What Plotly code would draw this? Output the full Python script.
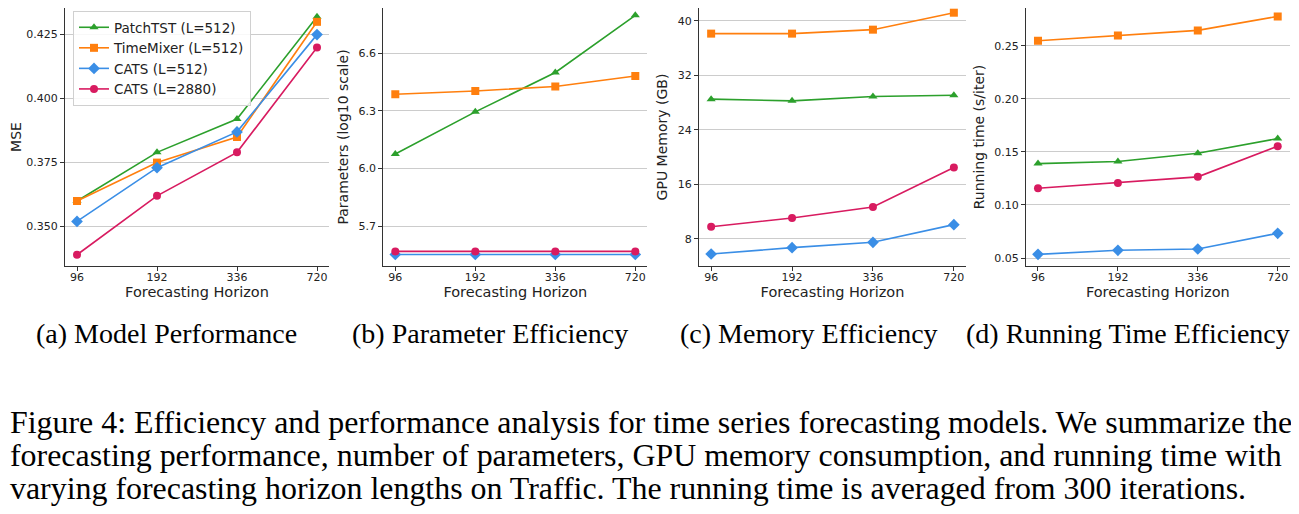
import plotly.graph_objects as go

horizons = ["96", "192", "336", "720"]
models = ["PatchTST (L=512)", "TimeMixer (L=512)", "CATS (L=512)", "CATS (L=2880)"]

mse = {
    "PatchTST (L=512)": [0.360, 0.379, 0.392, 0.432],
    "TimeMixer (L=512)": [0.360, 0.375, 0.385, 0.430],
    "CATS (L=512)": [0.352, 0.373, 0.387, 0.425],
    "CATS (L=2880)": [0.339, 0.362, 0.379, 0.420],
}
params_log10 = {
    "PatchTST (L=512)": [6.075, 6.295, 6.500, 6.798],
    "TimeMixer (L=512)": [6.387, 6.404, 6.427, 6.482],
    "CATS (L=512)": [5.552, 5.552, 5.552, 5.552],
    "CATS (L=2880)": [5.568, 5.568, 5.568, 5.568],
}
gpu_mem = {
    "PatchTST (L=512)": [28.48, 28.23, 28.87, 29.06],
    "TimeMixer (L=512)": [38.10, 38.10, 38.68, 41.17],
    "CATS (L=512)": [5.75, 6.68, 7.47, 10.06],
    "CATS (L=2880)": [9.76, 11.04, 12.65, 18.44],
}
run_time = {
    "PatchTST (L=512)": [0.139, 0.141, 0.1488, 0.1626],
    "TimeMixer (L=512)": [0.2547, 0.2598, 0.2645, 0.2777],
    "CATS (L=512)": [0.0535, 0.0573, 0.0585, 0.0733],
    "CATS (L=2880)": [0.1158, 0.1208, 0.1265, 0.1554],
}

panel_titles = ["(a) Model Performance", "(b) Parameter Efficiency",
                "(c) Memory Efficiency", "(d) Running Time Efficiency"]
y_titles = ["MSE", "Parameters (log10 scale)", "GPU Memory (GB)", "Running time (s/iter)"]
x_title = "Forecasting Horizon"
caption_lines = [
    "Figure 4: Efficiency and performance analysis for time series forecasting models. We summarize the",
    "forecasting performance, number of parameters, GPU memory consumption, and running time with",
    "varying forecasting horizon lengths on Traffic. The running time is averaged from 300 iterations.",
]

colors = {
    "PatchTST (L=512)": "#2ca02c",
    "TimeMixer (L=512)": "#ff7f0e",
    "CATS (L=512)": "#3a8ee6",
    "CATS (L=2880)": "#d81b60",
}
symbols = {
    "PatchTST (L=512)": "triangle-up",
    "TimeMixer (L=512)": "square",
    "CATS (L=512)": "diamond",
    "CATS (L=2880)": "circle",
}

# The page body has an 8px margin, so the figure starts at (8, 8) on screen.
OFF = 8
W, H = 1299 - OFF, 514 - 2 * OFF


def px_x(x):
    return (x - OFF) / W


def px_y(y):
    return 1 - (y - OFF) / H


panel_px = [(65, 329), (383.3, 647.3), (699, 966), (1026, 1289.7)]
y_dom = [px_y(266), 1.0]
y_ranges = [[0.3346, 0.4354], [5.492, 6.836], [3.99, 41.86], [0.0425, 0.2856]]
y_ticks = [[0.350, 0.375, 0.400, 0.425], [5.7, 6.0, 6.3, 6.6],
           [8, 16, 24, 32, 40], [0.05, 0.10, 0.15, 0.20, 0.25]]
y_fmt = [".3f", ".1f", "d", ".2f"]
datasets = [mse, params_log10, gpu_mem, run_time]

fig = go.Figure()
chart_font = "DejaVu Sans"
for i, data in enumerate(datasets):
    sfx = "" if i == 0 else str(i + 1)
    for m in models:
        fig.add_trace(go.Scatter(
            x=horizons, y=data[m], name=m, mode="lines+markers",
            line=dict(color=colors[m], width=1.6),
            marker=dict(symbol=symbols[m], size=8 if symbols[m] != "diamond" else 9,
                        color=colors[m]),
            xaxis="x" + sfx, yaxis="y" + sfx, showlegend=(i == 0),
        ))
    x0, x1 = panel_px[i]
    axis_common = dict(showline=True, linecolor="#333333", linewidth=1.3,
                       ticks="outside", ticklen=4, tickwidth=1, tickcolor="#333333",
                       tickfont=dict(size=11, color="#222222", family=chart_font),
                       zeroline=False, automargin=False)
    fig.update_layout(**{
        "xaxis" + sfx: dict(domain=[px_x(x0), px_x(x1)], type="category",
                            range=[-0.15, 3.15], showgrid=False, anchor="y" + sfx,
                            ticklabelstandoff=-3,
                            title=dict(text=x_title, standoff=3,
                                       font=dict(size=14.5, color="#222222", family=chart_font)),
                            **axis_common),
        "yaxis" + sfx: dict(domain=y_dom, range=y_ranges[i], tickvals=y_ticks[i],
                            tickformat=y_fmt[i], showgrid=True, gridcolor="#cccccc",
                            gridwidth=1.3, anchor="x" + sfx,
                            title=dict(text=y_titles[i], standoff=6,
                                       font=dict(size=14, color="#222222", family=chart_font)),
                            **axis_common),
    })

sub_centers = [166.7, 490, 808.6, 1128]
annotations = []
for t, cx in zip(panel_titles, sub_centers):
    annotations.append(dict(text=t, x=px_x(cx), y=px_y(333), xref="paper", yref="paper",
                            xanchor="center", yanchor="middle", showarrow=False,
                            font=dict(family="Liberation Serif", size=28, color="black")))
for k, line in enumerate(caption_lines):
    cy = 422 + 33 * k
    annotations.append(dict(text=line, x=px_x(8), y=px_y(cy), xref="paper", yref="paper",
                            xanchor="left", yanchor="middle", showarrow=False,
                            font=dict(family="Liberation Serif", size=31.9, color="black")))

fig.update_layout(
    width=W, height=H, margin=dict(l=0, r=0, t=0, b=0),
    paper_bgcolor="white", plot_bgcolor="white",
    annotations=annotations,
    legend=dict(x=px_x(73), y=px_y(11), xanchor="left", yanchor="top",
                bgcolor="rgba(255,255,255,0.85)", bordercolor="#d0d0d0", borderwidth=1,
                font=dict(size=13.5, color="#222222", family=chart_font),
                tracegroupgap=0, itemwidth=30),
)

fig.write_html("out.html")
